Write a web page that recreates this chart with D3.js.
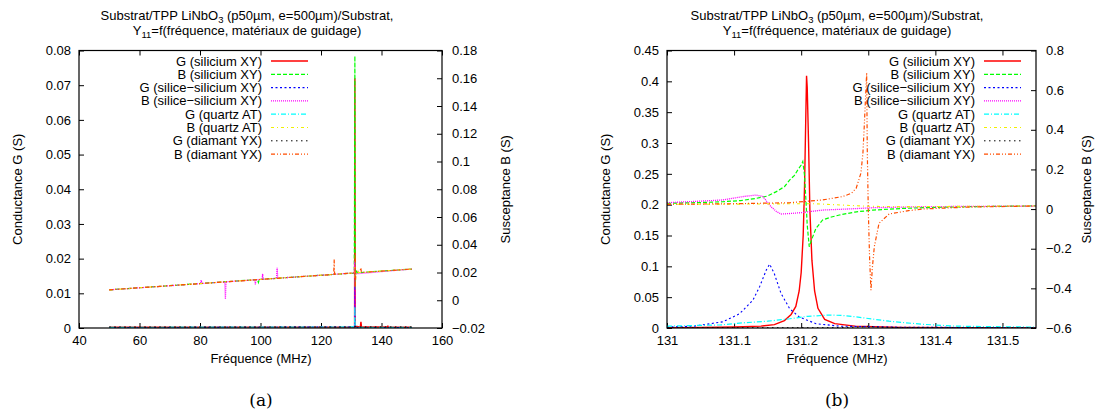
<!DOCTYPE html>
<html><head><meta charset="utf-8">
<script src="https://cdn.jsdelivr.net/npm/d3@7"></script>
<style>
body{margin:0;background:#fff}
svg text{font-family:"Liberation Sans",Arial,Helvetica,sans-serif;fill:#000}
</style>
</head><body>
<svg id="c" width="1097" height="417"></svg>
<script>
// ---------------- DATA ----------------
const legendLabels = ["G (silicium XY)","B (silicium XY)","G (silice\u2212silicium XY)","B (silice\u2212silicium XY)",
  "G (quartz AT)","B (quartz AT)","G (diamant YX)","B (diamant YX)"];
const seriesAxis = ["y","y2","y","y2","y","y2","y","y2"];

const aXTicks = [40,60,80,100,120,140,160];
const aYTicks = [0,0.01,0.02,0.03,0.04,0.05,0.06,0.07,0.08];
const aY2Ticks = [-0.02,0,0.02,0.04,0.06,0.08,0.1,0.12,0.14,0.16,0.18];

const bXTicks = [131,131.1,131.2,131.3,131.4,131.5];
const bYTicks = [0,0.05,0.1,0.15,0.2,0.25,0.3,0.35,0.4,0.45];
const bY2Ticks = [-0.6,-0.4,-0.2,0,0.2,0.4,0.6,0.8];

// panel (a) : 50 - 150 MHz  [frequency MHz, value S]
const aGSilicium = [[50,0.0002],[131.1,0.0003],[131.2,0.072],[131.3,0.0005],[133.0,0.0003],[133.2,0.0018],[133.4,0.0003],[142.0,0.0003],[142.1,0.0007],[142.2,0.0002],[150,0.0002]];
const aBSilicium = [[50,0.0075],[99.0,0.0149],[99.3,0.0128],[99.6,0.015],[130.8,0.0196],[131.0,0.021],[131.2,0.176],[131.3,0.008],[131.5,0.022],[132,0.0198],[150,0.0225]];
const aGSiliceSilicium = [[50,0.0001],[131.1,0.0003],[131.15,0.012],[131.2,0.0004],[131.3,0.0001],[150,0.0001]];
const aBSiliceSilicium = [[50,0.0075],[80.2,0.012],[80.4,0.0145],[80.6,0.0121],[88.2,0.0132],[88.4,0.001],[88.6,0.0133],[98.1,0.0147],[98.3,0.0115],[98.5,0.0148],[100.5,0.0151],[100.7,0.019],[100.9,0.0151],[105.3,0.0158],[105.5,0.0234],[105.7,0.0159],[131.0,0.0197],[131.15,0.028],[131.17,-0.02],[131.3,0.019],[150,0.0225]];
const aGQuartz = [[50,0.0002],[131.1,0.0003],[131.2,0.0062],[131.3,0.0008],[131.4,0.0002],[150,0.0002]];
const aBQuartz = [[50,0.0075],[131.0,0.0197],[131.2,0.024],[131.3,0.016],[131.5,0.0198],[150,0.0225]];
const aGDiamant = [[50,0.0003],[131.2,0.0003],[131.3,0.001],[131.4,0.0003],[150,0.0003]];
const aBDiamant = [[50,0.0075],[124.2,0.0186],[124.35,0.0294],[124.5,0.0187],[131.0,0.0197],[131.25,0.021],[131.3,0.034],[131.32,0.0095],[131.5,0.0197],[133.2,0.0225],[133.4,0.02],[150,0.0225]];

// panel (b) : 131 - 131.55 MHz
const bGSilicium = [[131.00,0.0006],[131.05,0.0009],[131.10,0.0016],[131.14,0.003],[131.16,0.0055],[131.175,0.012],[131.185,0.022],[131.192,0.035],[131.197,0.06],[131.200,0.09],[131.203,0.15],[131.205,0.23],[131.207,0.35],[131.208,0.409],[131.209,0.39],[131.211,0.30],[131.213,0.19],[131.216,0.11],[131.220,0.06],[131.225,0.032],[131.235,0.014],[131.25,0.007],[131.28,0.003],[131.35,0.001],[131.45,0.0005],[131.55,0.0003]];
const bBSilicium = [[131.00,0.029],[131.05,0.033],[131.083,0.037],[131.11,0.043],[131.133,0.054],[131.15,0.066],[131.163,0.088],[131.175,0.113],[131.183,0.147],[131.19,0.17],[131.195,0.198],[131.2,0.222],[131.2024,0.24],[131.205,0.17],[131.207,0.05],[131.209,-0.08],[131.212,-0.19],[131.216,-0.15],[131.222,-0.0975],[131.232,-0.055],[131.245,-0.04],[131.257,-0.03],[131.28,-0.015],[131.307,-0.005],[131.35,0.003],[131.381,0.007],[131.45,0.012],[131.55,0.016]];
const bGSiliceSilicium = [[131.00,0.0016],[131.04,0.003],[131.083,0.01],[131.108,0.023],[131.128,0.045],[131.138,0.067],[131.148,0.094],[131.153,0.1035],[131.16,0.088],[131.17,0.056],[131.183,0.031],[131.197,0.018],[131.222,0.007],[131.257,0.003],[131.35,0.0012],[131.55,0.0005]];
const bBSiliceSilicium = [[131.00,0.032],[131.05,0.04],[131.083,0.046],[131.113,0.063],[131.133,0.071],[131.143,0.063],[131.155,0.012],[131.163,-0.012],[131.17,-0.025],[131.185,-0.022],[131.2,-0.018],[131.232,-0.005],[131.28,0.002],[131.307,0.007],[131.381,0.012],[131.55,0.0155]];
const bGQuartz = [[131.00,0.003],[131.08,0.005],[131.108,0.008],[131.15,0.011],[131.183,0.015],[131.21,0.019],[131.242,0.021],[131.26,0.0205],[131.282,0.018],[131.31,0.014],[131.331,0.011],[131.381,0.006],[131.43,0.003],[131.5,0.002],[131.55,0.0015]];
const bBQuartz = [[131.00,0.024],[131.1,0.025],[131.2,0.027],[131.22,0.027],[131.25,0.022],[131.3,0.014],[131.35,0.012],[131.45,0.014],[131.55,0.016]];
const bGDiamant = [[131.0,0.0003],[131.25,0.0006],[131.29,0.0015],[131.3,0.003],[131.31,0.0015],[131.35,0.0006],[131.55,0.0003]];
const bBDiamant = [[131.00,0.024],[131.1,0.027],[131.183,0.032],[131.232,0.046],[131.262,0.063],[131.275,0.08],[131.282,0.105],[131.289,0.181],[131.292,0.28],[131.294,0.417],[131.2976,0.687],[131.2985,0.3],[131.3,0.0],[131.302,-0.25],[131.304,-0.409],[131.306,-0.3],[131.309,-0.19],[131.316,-0.072],[131.331,-0.025],[131.36,-0.008],[131.381,0.0003],[131.45,0.01],[131.55,0.0155]];

const aSeries = [aGSilicium,aBSilicium,aGSiliceSilicium,aBSiliceSilicium,aGQuartz,aBQuartz,aGDiamant,aBDiamant];
const bSeries = [bGSilicium,bBSilicium,bGSiliceSilicium,bBSiliceSilicium,bGQuartz,bBQuartz,bGDiamant,bBDiamant];

// ---------------- STYLE ----------------
const colors = ["#ff0000","#00ff00","#0000ff","#ff00ff","#00ffff","#f0f000","#000000","#ff4d00"];
const dashes = [null,"4,2","2,2.5","1,1","5,2,1,2","3,3,1,3","1.5,3.5","4,2,1,2,1,2"];
const widths = [1.4,1.2,1.1,1.3,1.2,1.1,1.0,1.2];

const svg = d3.select("#c");
svg.append("rect").attr("width",1097).attr("height",417).attr("fill","#fff");
const FS = 13;
const fmt = v => String(+v.toFixed(3)).replace("-", "\u2212");

function panel(o){
  const g = svg.append("g");
  const x = d3.scaleLinear().domain(o.xd).range([o.L,o.R]);
  const y = d3.scaleLinear().domain(o.yd).range([o.B,o.T]);
  const y2 = d3.scaleLinear().domain(o.y2d).range([o.B,o.T]);
  const clipId = "clip"+o.id;
  svg.append("clipPath").attr("id",clipId).append("rect")
    .attr("x",o.L).attr("y",o.T-1).attr("width",o.R-o.L).attr("height",o.B-o.T+1);

  const tk = 5;
  const bx = g.append("g").attr("transform",`translate(0,${o.B})`)
    .call(d3.axisBottom(x).tickValues(o.xt).tickSize(-tk).tickPadding(8).tickFormat(fmt));
  const tx = g.append("g").attr("transform",`translate(0,${o.T})`)
    .call(d3.axisTop(x).tickValues(o.xt).tickSize(-tk).tickFormat(""));
  const ly = g.append("g").attr("transform",`translate(${o.L},0)`)
    .call(d3.axisLeft(y).tickValues(o.yt).tickSize(-tk).tickPadding(8).tickFormat(fmt));
  const ry = g.append("g").attr("transform",`translate(${o.R},0)`)
    .call(d3.axisRight(y2).tickValues(o.y2t).tickSize(-tk).tickPadding(10).tickFormat(fmt));
  [bx,tx,ly,ry].forEach(a=>{
    a.select(".domain").remove();
    a.selectAll("line").attr("stroke","#000").attr("stroke-width",1);
    a.selectAll("text").attr("font-size",FS).attr("font-family",'"Liberation Sans",Arial,sans-serif').attr("fill","#000");
  });
  bx.selectAll("text").attr("dy","0.71em");

  const lg = g.append("g").attr("clip-path",`url(#${clipId})`);
  o.series.forEach((s,i)=>{
    const ys = seriesAxis[i]==="y" ? y : y2;
    const line = d3.line().x(d=>x(d[0])).y(d=>ys(d[1]));
    lg.append("path").datum(s).attr("d",line).attr("fill","none")
      .attr("stroke",colors[i]).attr("stroke-width",widths[i])
      .attr("stroke-dasharray",dashes[i]);
  });

  g.append("rect").attr("x",o.L).attr("y",o.T).attr("width",o.R-o.L).attr("height",o.B-o.T)
    .attr("fill","none").attr("stroke","#000").attr("stroke-width",1.2);

  legendLabels.forEach((lab,i)=>{
    const yy = o.legY + i*13.3;
    g.append("text").attr("x",o.legX).attr("y",yy).attr("dy","0.35em")
      .attr("text-anchor","end").attr("font-size",FS).text(lab);
    g.append("line").attr("x1",o.legX+9).attr("x2",o.legX+46).attr("y1",yy).attr("y2",yy)
      .attr("stroke",colors[i]).attr("stroke-width",widths[i]).attr("stroke-dasharray",dashes[i]);
  });

  const t1 = g.append("text").attr("x",o.titleX).attr("y",20).attr("text-anchor","middle").attr("font-size",FS);
  t1.append("tspan").text("Substrat/TPP LiNbO");
  t1.append("tspan").attr("dy",3).attr("font-size",9.5).text("3");
  t1.append("tspan").attr("dy",-3).text(" (p50\u00b5m, e=500\u00b5m)/Substrat,");
  const t2 = g.append("text").attr("x",o.titleX).attr("y",35).attr("text-anchor","middle").attr("font-size",FS);
  t2.append("tspan").text("Y");
  t2.append("tspan").attr("dy",3).attr("font-size",9.5).text("11");
  t2.append("tspan").attr("dy",-3).text("=f(fr\u00e9quence, mat\u00e9riaux de guidage)");

  g.append("text").attr("x",o.xlabX).attr("y",363).attr("text-anchor","middle").attr("font-size",FS).text("Fr\u00e9quence (MHz)");
  g.append("text").attr("transform",`translate(${o.L-62},${(o.T+o.B)/2}) rotate(-90)`).attr("dy","0.35em")
    .attr("text-anchor","middle").attr("font-size",FS).text("Conductance G (S)");
  g.append("text").attr("transform",`translate(${o.y2labX},${(o.T+o.B)/2}) rotate(-90)`).attr("dy","0.35em")
    .attr("text-anchor","middle").attr("font-size",FS).text("Susceptance B (S)");
  g.append("text").attr("x",o.xlabX).attr("y",406).attr("text-anchor","middle")
    .attr("font-size",17).style("font-family",'"DejaVu Serif","Liberation Serif",serif').text(o.cap);
}

panel({id:"a",L:79,R:442,T:50.5,B:328,xd:[40,160],yd:[0,0.08],y2d:[-0.02,0.18],
  xt:aXTicks,yt:aYTicks,y2t:aY2Ticks,series:aSeries,legX:262,legY:61,titleX:247,xlabX:261,y2labX:505,cap:"(a)"});
panel({id:"b",L:667,R:1036,T:50.5,B:328,xd:[131,131.55],yd:[0,0.45],y2d:[-0.6,0.8],
  xt:bXTicks,yt:bYTicks,y2t:bY2Ticks,series:bSeries,legX:975,legY:61,titleX:837,xlabX:837,y2labX:1086,cap:"(b)"});
</script>
</body></html>
